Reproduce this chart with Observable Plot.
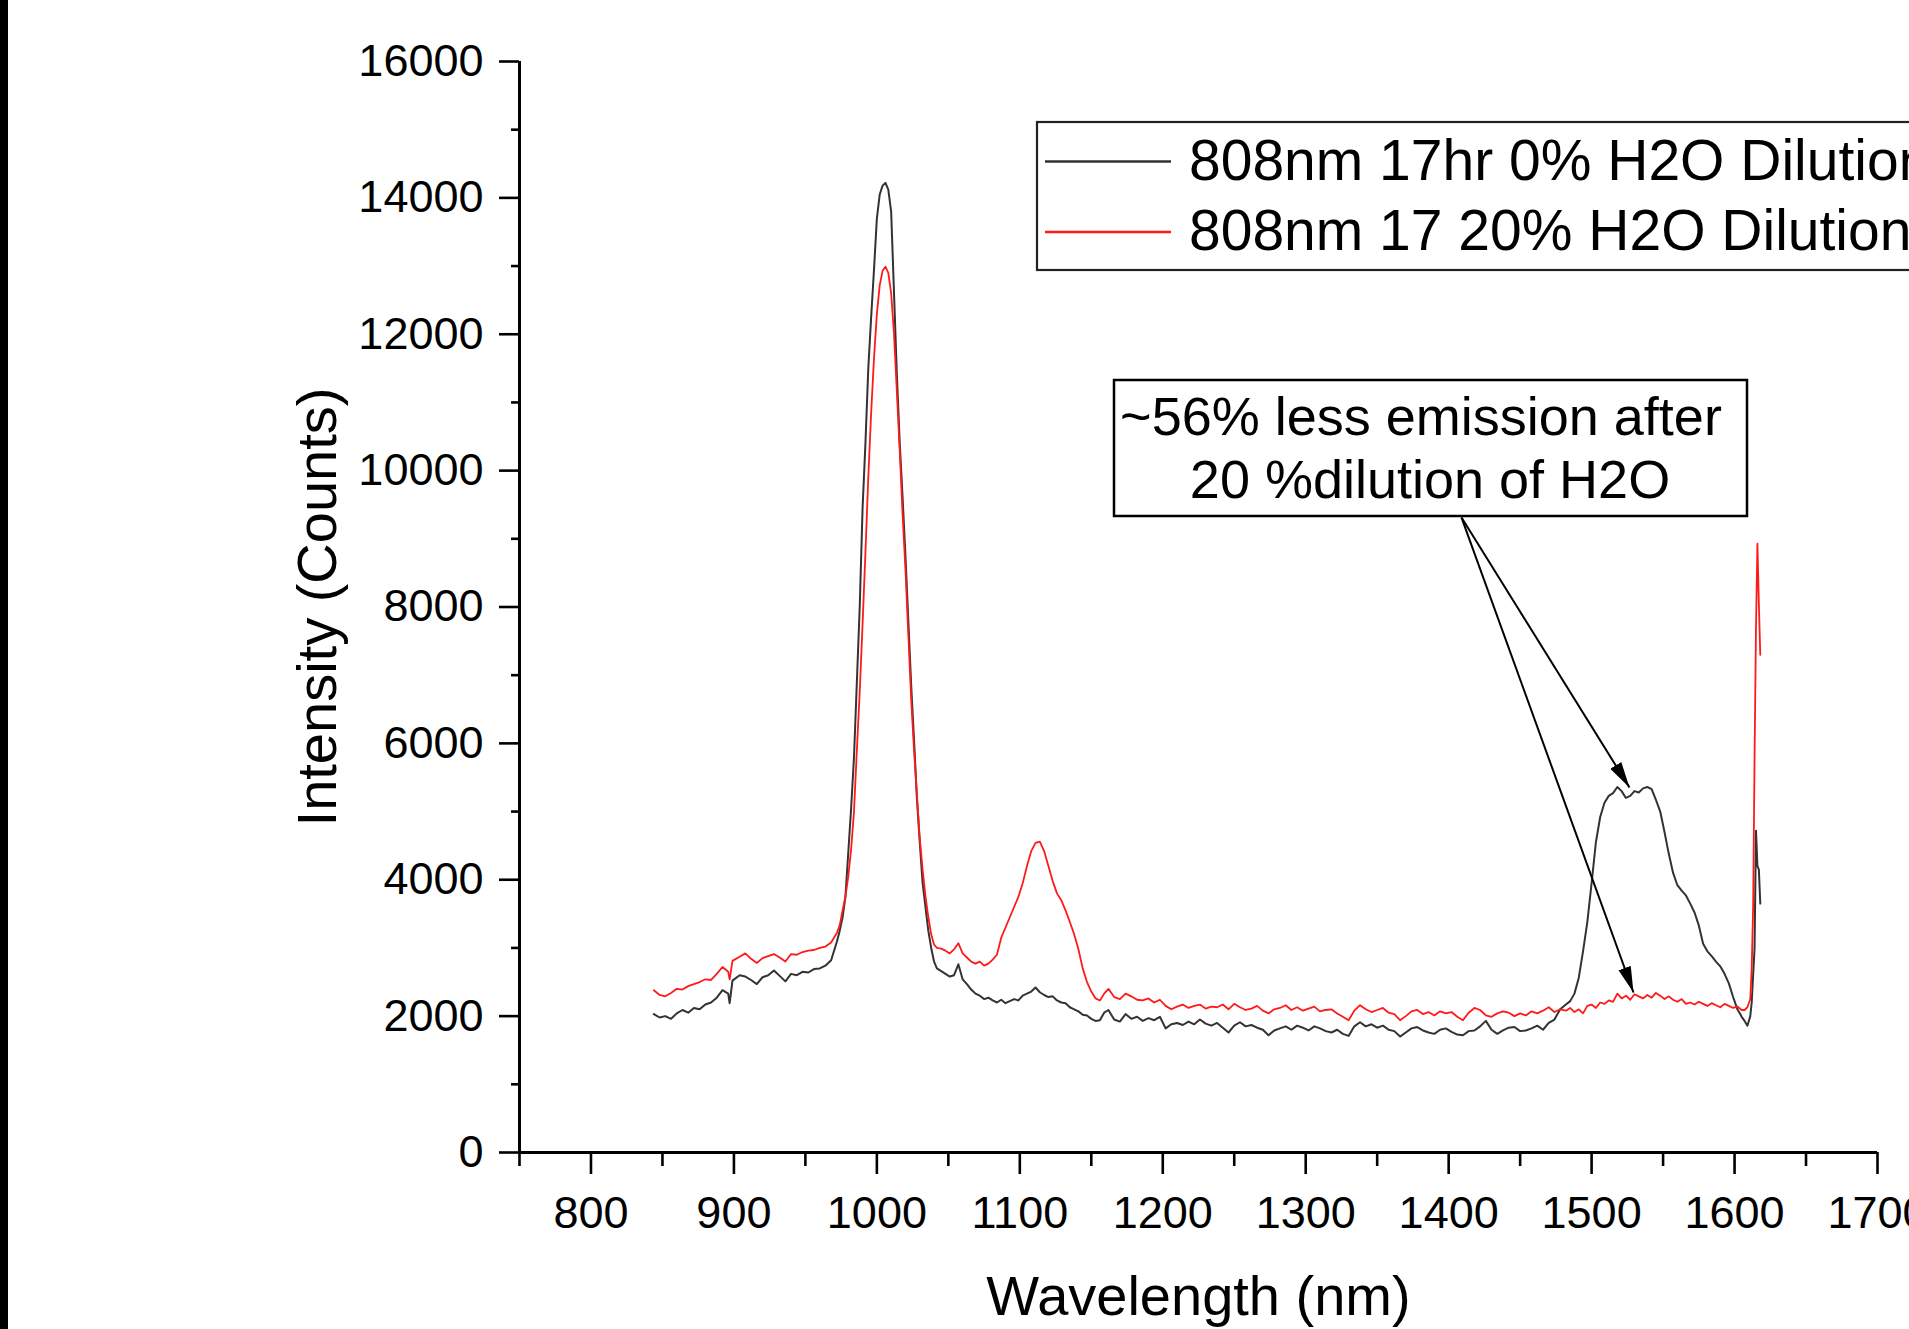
<!DOCTYPE html>
<html>
<head>
<meta charset="utf-8">
<script src="https://cdn.jsdelivr.net/npm/d3@7"></script>
<script src="https://cdn.jsdelivr.net/npm/@observablehq/plot@0.6"></script>
<style>
html, body { margin: 0; padding: 0; background: #fff; overflow: hidden; }
#wrap { position: relative; width: 1909px; height: 1329px; }
#bar { position: absolute; left: 0; top: 0; width: 8px; height: 1329px; background: #000; z-index: 2; }
svg text { font-family: "Liberation Sans", Arial, sans-serif; }
</style>
</head>
<body>
<div id="wrap"><div id="bar"></div></div>
<script>
// ---------- Data ----------
const seriesNames = ["808nm 17hr 0% H2O Dilution", "808nm 17 20% H2O Dilution"];
const seriesColors = ["#333333", "#ff1a1a"];

const wlA = [844,848,852,856,860,864,868,872,876,880,884,888,892,896,897,899,904,908,912,916,920,924,928,932,936,940,944,948,952,956,960,964,968,972];
const blackA = [2030,1980,2000,1960,2040,2090,2050,2120,2100,2170,2200,2270,2380,2330,2190,2520,2600,2580,2530,2470,2570,2600,2670,2590,2510,2620,2600,2650,2640,2690,2700,2740,2820,3090];
const redA = [2380,2310,2290,2340,2400,2390,2440,2470,2500,2540,2530,2620,2720,2650,2540,2810,2870,2920,2840,2780,2850,2880,2910,2860,2800,2910,2900,2940,2960,2970,3000,3020,3080,3220];

const wlB = [974,976,978,980,982,984,986,988,990,992,994,996,998,1000,1002,1004,1006,1008,1010,1012,1014,1016,1018,1020,1022,1024,1026,1028,1030,1032,1034,1036,1038,1040,1042];
const blackB = [3250,3450,3750,4400,5050,5800,6900,8000,9450,10400,11500,12250,12950,13700,14050,14180,14220,14120,13800,12600,11400,10400,9600,8750,7800,6850,6050,5200,4550,3950,3600,3250,3000,2800,2700];
const redB = [3330,3550,3750,4050,4450,5000,5900,6750,7750,8800,9900,10850,11650,12300,12720,12930,12990,12900,12600,12000,11150,10300,9350,8550,7600,6650,5900,5250,4600,4150,3760,3450,3200,3050,3000];

const wlC = [1045,1048,1051,1054,1057,1060,1063,1066,1069,1072,1075,1078,1081,1084,1087,1090,1093,1096,1099,1102,1105,1108,1111,1114,1117,1120,1123,1126,1129,1132,1135,1138,1141,1144,1147,1150,1153,1156,1159];
const blackC = [2660,2620,2580,2600,2760,2540,2470,2390,2330,2300,2250,2270,2230,2200,2240,2190,2220,2250,2230,2300,2330,2360,2420,2350,2310,2280,2290,2230,2200,2190,2130,2100,2070,2020,2010,1960,1930,1940,2050];
const redC = [2990,2960,2920,2980,3070,2920,2860,2800,2770,2800,2740,2770,2830,2900,3150,3300,3450,3600,3750,3950,4200,4420,4540,4560,4420,4200,3980,3800,3700,3550,3380,3200,2980,2700,2500,2360,2260,2230,2330];

const wlD = [1162,1166,1170,1174,1178,1182,1186,1190,1194,1198,1202,1206,1210,1214,1218,1222,1226,1230,1234,1238,1242,1246,1250,1254,1258,1262,1266,1270,1274,1278,1282,1286,1290,1294,1298,1302,1306,1310,1314,1318,1322,1326,1330,1334,1338,1342,1346,1350,1354,1358,1362,1366,1370,1374,1378,1382,1386,1390,1394,1398,1402,1406,1410,1414,1418,1422,1426,1430,1434,1438,1442,1446,1450,1454,1458,1462,1466,1470,1474,1478];
const blackD = [2090,1950,1920,2030,1960,1990,1930,1970,1940,1990,
                1820,1880,1900,1870,1920,1880,1950,1890,1860,1900,
                1830,1760,1860,1910,1850,1870,1830,1800,1720,1790,
                1820,1850,1800,1860,1830,1790,1850,1820,1780,1760,
                1800,1740,1710,1850,1910,1850,1880,1830,1860,1800,
                1780,1700,1760,1820,1840,1790,1760,1740,1800,1820,
                1770,1730,1720,1780,1790,1850,1930,1800,1740,1790,
                1830,1840,1780,1790,1820,1860,1800,1900,1950,2100];
const redD = [2400,2280,2250,2330,2290,2240,2230,2260,2200,2240,
              2150,2100,2140,2170,2120,2150,2170,2110,2140,2130,
              2170,2100,2180,2130,2090,2110,2150,2080,2040,2100,
              2120,2160,2090,2130,2080,2110,2140,2070,2090,2100,
              2040,1990,1940,2080,2160,2100,2060,2090,2120,2050,
              2030,1940,2000,2070,2090,2030,2060,2010,2070,2040,
              2060,1990,1940,2050,2120,2090,2010,1990,2040,2070,
              2050,2000,2040,2010,2070,2040,2080,2130,2060,2100];

const wlE = [1482,1485,1488,1491,1494,1497,1500,1503,1506,1509,1512,1515,1518,1521,1524,1527,1530,1533,1536,1539,1542,1545,1548,1551,1554,1557,1560,1563,1566,1569,1572,1575,1578,1581,1584,1587,1590,1593,1596,1599,1602,1605];
const blackE = [2170,2220,2330,2560,2950,3380,3950,4550,4920,5130,
                5230,5270,5360,5300,5200,5230,5300,5280,5340,5360,
                5330,5170,5000,4700,4380,4100,3920,3840,3770,3650,
                3520,3330,3060,2950,2880,2800,2730,2620,2480,2280,
                2100,1990];
const redE = [2080,2120,2060,2100,2040,2150,2170,2120,2200,2180,
              2230,2210,2330,2260,2300,2240,2320,2290,2260,2310,
              2270,2340,2300,2250,2290,2240,2210,2250,2180,2200,
              2170,2210,2180,2150,2190,2160,2130,2180,2150,2120,
              2140,2090];

const wlF = [1607,1609,1611,1612,1613,1614,1615,1616,1617,1618];
const blackF = [1930,1860,2000,2200,2600,3000,4720,4200,4150,3650];
const redF = [2090,2130,2250,2700,3600,5800,7700,8930,8050,7300];

// Axis ticks
const xMajor = [800,900,1000,1100,1200,1300,1400,1500,1600,1700];
const xMinor = [750,850,950,1050,1150,1250,1350,1450,1550,1650];
const yMajor = [0,2000,4000,6000,8000,10000,12000,14000,16000];
const yMinor = [1000,3000,5000,7000,9000,11000,13000,15000];

// Annotation (arrows from the text box to the two 1530 nm features)
const annotationLines = ["~56% less emission after", "20 %dilution of H2O"];
const arrowFromX = [1409, 1409];
const arrowFromY = [9312, 9312];
const arrowToX = [1526.5, 1529.3];
const arrowToY = [5353, 2346];

// ---------- Build tables ----------
const wavelength = [].concat(wlA, wlB, wlC, wlD, wlE, wlF);
const counts0 = [].concat(blackA, blackB, blackC, blackD, blackE, blackF);
const counts20 = [].concat(redA, redB, redC, redD, redE, redF);
if (wavelength.length !== counts0.length || wavelength.length !== counts20.length) {
  console.error("length mismatch", wavelength.length, counts0.length, counts20.length);
}
const s0 = wavelength.map((w, i) => ({wl: w, v: counts0[i]}));
const s20 = wavelength.map((w, i) => ({wl: w, v: counts20[i]}));
const arrows = arrowFromX.map((d, i) => ({x1: d, y1: arrowFromY[i], x2: arrowToX[i], y2: arrowToY[i]}));

function filledArrow(color) {
  const m = d3.create("svg:marker")
    .attr("viewBox", "-26 -7 27 14")
    .attr("markerWidth", 27).attr("markerHeight", 14)
    .attr("markerUnits", "userSpaceOnUse")
    .attr("refX", 0).attr("refY", 0)
    .attr("orient", "auto");
  m.append("path").attr("d", "M-26,-6.5L0,0L-26,6.5Z").attr("fill", "#000").attr("stroke", "none");
  return m.node();
}

const font = "Liberation Sans, Arial, sans-serif";

const chart = Plot.plot({
  width: 1909,
  height: 1329,
  marginLeft: 519,
  marginRight: 32,
  marginTop: 61,
  marginBottom: 177,
  style: {fontFamily: font, background: "#fff", color: "#000"},
  x: {domain: [750, 1700], label: null},
  y: {domain: [0, 16000], label: null},
  marks: [
    Plot.axisY(yMajor, {tickSize: 20, tickPadding: 16, fontSize: 45, strokeWidth: 2.6, stroke: "#000", fill: "#000", label: null, tickFormat: d => String(d)}),
    Plot.axisY(yMinor, {tickSize: 8, strokeWidth: 2.6, stroke: "#000", label: null, tickFormat: () => ""}),
    Plot.axisX(xMajor, {tickSize: 22, tickPadding: 22, fontSize: 45, strokeWidth: 2.6, stroke: "#000", fill: "#000", label: null, tickFormat: d => String(d)}),
    Plot.axisX(xMinor, {tickSize: 14, strokeWidth: 2.6, stroke: "#000", label: null, tickFormat: () => ""}),
    Plot.ruleX([750], {y1: 0, y2: 16000, stroke: "#000", strokeWidth: 3}),
    Plot.ruleY([0], {x1: 750, x2: 1700, stroke: "#000", strokeWidth: 3}),
    Plot.line(s0, {x: "wl", y: "v", stroke: seriesColors[0], strokeWidth: 2}),
    Plot.line(s20, {x: "wl", y: "v", stroke: seriesColors[1], strokeWidth: 1.8}),
    Plot.link(arrows, {x1: "x1", y1: "y1", x2: "x2", y2: "y2", stroke: "#000", strokeWidth: 2, markerEnd: filledArrow}),
    Plot.text(["Wavelength (nm)"], {frameAnchor: "bottom", dy: 145, fontSize: 56, fill: "#000", textAnchor: "middle", lineAnchor: "middle"}),
    Plot.text(["Intensity (Counts)"], {frameAnchor: "left", dx: -201, rotate: -90, fontSize: 56, fill: "#000", textAnchor: "middle", lineAnchor: "middle"})
  ]
});

document.getElementById("wrap").prepend(chart);

// ---------- Legend and annotation box ----------
const svg = d3.select(chart);
const lg = svg.append("g").attr("font-family", font).attr("text-anchor", "start");
lg.append("rect").attr("x", 1037).attr("y", 122).attr("width", 1000).attr("height", 148)
  .attr("fill", "#fff").attr("stroke", "#222").attr("stroke-width", 2.2);
seriesNames.forEach((name, i) => {
  const cy = 161.5 + i * 70.5;
  lg.append("line").attr("x1", 1045).attr("x2", 1171).attr("y1", cy).attr("y2", cy)
    .attr("stroke", seriesColors[i]).attr("stroke-width", 2.6);
  lg.append("text").attr("x", 1189).attr("y", 180 + i * 70).attr("font-size", 57)
    .attr("text-anchor", "start").attr("fill", "#000").text(name);
});

const ag = svg.append("g").attr("font-family", font);
ag.append("rect").attr("x", 1114).attr("y", 380).attr("width", 633).attr("height", 136)
  .attr("fill", "#fff").attr("stroke", "#000").attr("stroke-width", 2.5);
ag.append("text").attr("x", 1421).attr("y", 435).attr("font-size", 54).attr("text-anchor", "middle")
  .attr("fill", "#000").text(annotationLines[0]);
ag.append("text").attr("x", 1430).attr("y", 498).attr("font-size", 54).attr("text-anchor", "middle")
  .attr("fill", "#000").text(annotationLines[1]);
</script>
</body>
</html>
